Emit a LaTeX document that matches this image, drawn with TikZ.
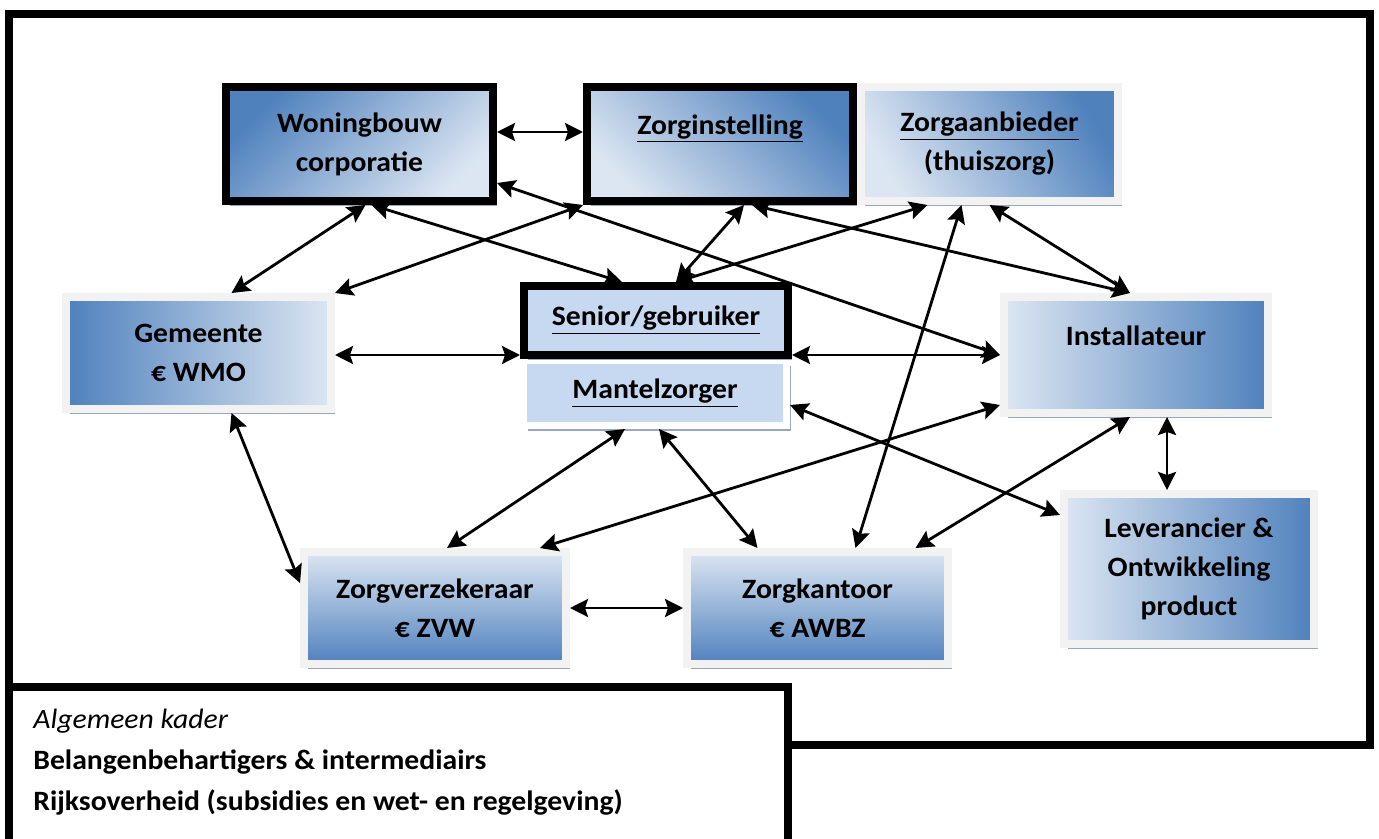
\documentclass[tikz,border=0pt]{standalone}
\usepackage{fontspec}
\setmainfont{Carlito}[FakeStretch=1.06]
\usetikzlibrary{shadows,arrows.meta}
\definecolor{dkblue}{HTML}{4F81BD}
\definecolor{ltblue}{HTML}{DCE6F2}
\definecolor{pale}{HTML}{C6D9F1}
\definecolor{rim}{HTML}{F2F2F2}
\definecolor{shade}{HTML}{9AA8BC}
\begin{document}
\begin{tikzpicture}[x=0.5pt,y=-0.5pt,
    every node/.style={font=\fontsize{14}{19.5}\selectfont\bfseries, align=center},
    box/.style={rectangle, draw=rim, line width=4pt, inner sep=0pt,
        drop shadow={shadow xshift=2pt, shadow yshift=-2.5pt, fill=shade, opacity=1}},
    heavy/.style={box, draw=black},
    link/.style={{Stealth[length=9pt,width=9pt,inset=1.5pt]}-{Stealth[length=9pt,width=9pt,inset=1.5pt]}, line width=1.4pt}]
    \useasboundingbox (0,0) rectangle (1379,839);
    \clip (0,0) rectangle (1379,839);
    \draw[line width=4pt] (9,14) rectangle (1370,745);

    \node[box, top color=dkblue, bottom color=ltblue, shading angle=-60,
        minimum width=128.5pt, minimum height=57pt] (zab) at (989.5,144) {\underline{Zorgaanbieder}\\(thuiszorg)};
    \node[heavy, top color=dkblue, bottom color=ltblue, shading angle=45,
        minimum width=133.5pt, minimum height=57pt] (won) at (359.5,144) {Woningbouw\\corporatie};
    \node[heavy, top color=dkblue, bottom color=ltblue, shading angle=-45,
        minimum width=133pt, minimum height=57pt] (zin) at (720,144) {\underline{Zorginstelling}\\ \mbox{}};
    \node[box, left color=dkblue, right color=ltblue,
        minimum width=132.5pt, minimum height=56pt] (gem) at (198.5,353) {Gemeente\\€ WMO};
    \node[box, draw=white, fill=pale, line width=3.5pt,
        minimum width=131.5pt, minimum height=32.5pt] (man) at (655,393) {\underline{Mantelzorger}};
    \node[heavy, fill=pale, minimum width=132pt, minimum height=34.5pt] (sen) at (656,320.5) {\underline{Senior/gebruiker}};
    \node[box, left color=ltblue, right color=dkblue,
        minimum width=132pt, minimum height=58pt] (ins) at (1136,355) {Installateur\\ \mbox{}};
    \node[box, left color=ltblue, right color=dkblue,
        minimum width=125pt, minimum height=75pt] (lev) at (1189,569) {Leverancier \&\\Ontwikkeling\\product};
    \node[box, top color=ltblue, bottom color=dkblue,
        minimum width=131pt, minimum height=56pt] (zvz) at (435,608) {Zorgverzekeraar\\€ ZVW};
    \node[box, top color=ltblue, bottom color=dkblue,
        minimum width=130.5pt, minimum height=56pt] (zkt) at (817.5,608) {Zorgkantoor\\€ AWBZ};

    \draw[link] ([yshift=6pt]won.east) -- ([yshift=6pt]zin.west);
    \draw[link] ([yshift=-19.5pt]won.east) -- (ins.west);
    \draw[link] ([xshift=3pt]won.south) -- ([xshift=16.5pt]gem.north);
    \draw[link] ([xshift=6pt]won.south) -- ([xshift=-17pt]sen.north);
    \draw[link] (zin.south west) -- (gem.north east);
    \draw[link] ([xshift=12pt]zin.south) -- ([xshift=10pt]sen.north);
    \draw[link] ([xshift=16pt]zin.south) -- ([xshift=-3pt]ins.north);
    \draw[link] ([xshift=-31pt]zab.south) -- ([xshift=10pt]sen.north);
    \draw[link] ([xshift=-14pt]zab.south) -- ([xshift=19pt]zkt.north);
    \draw[link] (zab.south) -- ([xshift=-3pt]ins.north);
    \draw[link] ([yshift=-1pt]gem.east) -- ([yshift=-17.25pt]sen.west);
    \draw[link] ([yshift=-17.25pt]sen.east) -- (ins.west);
    \draw[link] ([xshift=16.5pt]gem.south) -- ([yshift=12.5pt]zvz.west);
    \draw[link] ([xshift=-15pt]man.south) -- ([xshift=6pt]zvz.north);
    \draw[link] ([xshift=2pt]man.south) -- ([xshift=-30pt]zkt.north);
    \draw[link] ([yshift=-6pt]man.east) -- ([yshift=27pt]lev.west);
    \draw[link] ([yshift=-25pt]ins.west) -- ([xshift=52.5pt]zvz.north);
    \draw[link] ([xshift=-3pt]ins.south) -- ([xshift=49pt]zkt.north);
    \draw[link] ([xshift=15.5pt]ins.south) -- ([xshift=-11pt]lev.north);
    \draw[link] (zvz.east) -- (zkt.west);

    \draw[line width=4pt, fill=white] (9,687) rectangle (788,900);
    \node[anchor=north west, align=left, inner sep=0pt, font=\fontsize{14}{20.5}\selectfont\bfseries] (kader) at (33,709)
        {{\mdseries\itshape Algemeen kader}\\Belangenbehartigers \& intermediairs\\Rijksoverheid (subsidies en wet- en regelgeving)};
\end{tikzpicture}
\end{document}
